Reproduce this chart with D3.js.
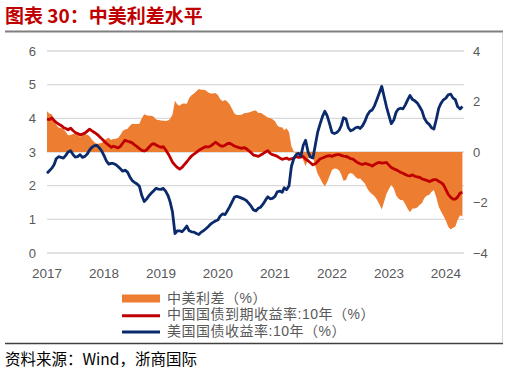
<!DOCTYPE html>
<html>
<head>
<meta charset="utf-8">
<script src="https://cdn.jsdelivr.net/npm/d3@7"></script>
<style>
  body { margin: 0; background: #fff; }
  svg { display: block; font-family: "Liberation Sans", Arial, "Noto Sans CJK SC", sans-serif; }
</style>
</head>
<body>
<svg id="chart" width="509" height="374"></svg>
<script>
// tick labels
const years = [2017, 2018, 2019, 2020, 2021, 2022, 2023, 2024];
const leftTicks = [0, 1, 2, 3, 4, 5, 6];
const rightTicks = [4, 2, 0, -2, -4];
const seriesNames = ["中美利差（%）", "中国国债到期收益率:10年（%）", "美国国债收益率:10年（%）"];

// half-monthly readings (1st and 16th of each month), one row per year
const cn10y = [
  3.98,3.96,4.01,3.93,3.88,3.83,3.79,3.73,3.70,3.66,3.71,3.64,3.58,3.55,3.51,3.53,3.56,3.62,3.68,3.63,3.58,3.53,3.47,3.40,
  3.33,3.26,3.20,3.14,3.17,3.15,3.12,3.17,3.26,3.35,3.32,3.30,3.27,3.21,3.16,3.10,3.05,3.03,3.06,3.14,3.22,3.25,3.21,3.17,
  3.14,3.16,3.06,2.95,2.84,2.70,2.61,2.54,2.49,2.54,2.63,2.71,2.80,2.88,2.94,2.99,3.05,3.09,3.13,3.16,3.15,3.18,3.23,3.29,
  3.24,3.19,3.17,3.20,3.25,3.26,3.22,3.18,3.15,3.13,3.11,3.13,3.10,3.04,2.98,2.91,2.89,2.87,2.91,2.95,3.00,3.04,2.96,2.92,
  2.90,2.87,2.82,2.78,2.80,2.82,2.78,2.80,2.82,2.87,2.84,2.85,2.87,2.79,2.74,2.68,2.62,2.65,2.72,2.79,2.82,2.85,2.88,2.89,
  2.87,2.90,2.92,2.92,2.90,2.88,2.87,2.84,2.80,2.79,2.73,2.68,2.65,2.63,2.66,2.64,2.62,2.58,2.63,2.67,2.69,2.67,2.68,2.69,
  2.61,2.54,2.50,2.47,2.44,2.40,2.37,2.33,2.30,2.29,2.32,2.28,2.26,2.25,2.20,2.18,2.16,2.12,2.15,2.18,2.18,2.13,2.09,2.03,
  1.88,1.74,1.65,1.60,1.60,1.66,1.78,1.80
];
const us10y = [
  2.37,2.44,2.52,2.63,2.80,2.86,2.84,2.82,2.90,3.00,3.04,2.93,2.85,2.86,2.92,2.84,2.87,2.94,3.06,3.14,3.19,3.20,3.13,3.04,
  2.90,2.74,2.64,2.66,2.66,2.63,2.57,2.50,2.43,2.46,2.40,2.26,2.15,2.10,2.05,1.98,1.70,1.53,1.60,1.70,1.78,1.85,1.92,1.90,
  1.89,1.92,1.83,1.70,1.52,1.22,0.58,0.66,0.66,0.63,0.71,0.80,0.66,0.63,0.62,0.58,0.55,0.62,0.66,0.72,0.79,0.86,0.91,0.95,
  0.98,1.10,1.16,1.14,1.25,1.37,1.52,1.66,1.68,1.66,1.63,1.60,1.56,1.48,1.39,1.28,1.25,1.33,1.36,1.45,1.57,1.67,1.61,1.62,
  1.68,1.82,1.84,1.80,1.94,1.88,2.00,2.57,2.80,2.92,2.96,2.88,3.20,3.35,3.00,2.85,2.82,3.20,3.58,3.82,4.05,4.21,4.08,3.85,
  3.58,3.55,3.58,3.65,3.78,4.02,3.98,3.72,3.63,3.66,3.72,3.74,3.70,3.78,3.92,4.10,4.21,4.25,4.38,4.56,4.76,4.95,4.65,4.35,
  4.08,3.84,3.95,4.18,4.27,4.30,4.28,4.40,4.55,4.68,4.56,4.52,4.46,4.35,4.22,4.00,3.88,3.82,3.72,3.68,3.98,4.30,4.45,4.55,
  4.60,4.70,4.72,4.60,4.56,4.35,4.28,4.35
];

const orange = "#ED7D31", red = "#C00000", navy = "#0B2A6B", grey = "#595959";

// dates for the readings
const dates = [];
years.forEach(y => d3.range(12).forEach(m => [1, 16].forEach(d => dates.push(new Date(y, m, d)))));
const data = cn10y.map((v, i) => ({ date: dates[i], cn: v, us: us10y[i], spread: v - us10y[i] }));

const svg = d3.select("#chart");

// scales
const x = d3.scaleTime().domain([new Date(2017, 0, 1), new Date(2024, 3, 26)]).range([47, 464]);
const yL = d3.scaleLinear().domain([0, 6]).range([253, 51]);
const yR = d3.scaleLinear().domain([-4, 4]).range([253, 51]);

// title + frame
svg.append("text")
  .attr("x", 5).attr("y", 23)
  .attr("fill", red)
  .style("font-family", "'Noto Sans CJK SC', sans-serif")
  .style("font-weight", "bold")
  .style("font-size", "19px")
  .text("图表 30：中美利差水平");

svg.append("line").attr("x1", 5).attr("x2", 503).attr("y1", 31.5).attr("y2", 31.5)
  .attr("stroke", "#7f7f7f").attr("stroke-width", 2);
svg.append("line").attr("x1", 502.5).attr("x2", 502.5).attr("y1", 33).attr("y2", 342)
  .attr("stroke", "#d9d9d9").attr("stroke-width", 1);
svg.append("line").attr("x1", 5).attr("x2", 503).attr("y1", 343.5).attr("y2", 343.5)
  .attr("stroke", "#404040").attr("stroke-width", 1.5);

// gridlines
svg.append("g").selectAll("line")
  .data(leftTicks)
  .enter()
  .append("line")
  .attr("x1", 47).attr("x2", 464)
  .attr("y1", d => yL(d)).attr("y2", d => yL(d))
  .attr("stroke", "#d9d9d9").attr("stroke-width", 1.3);

// spread area on right axis
svg.append("path")
  .datum(data)
  .attr("fill", orange)
  .attr("d", d3.area().x(d => x(d.date)).y0(yR(0)).y1(d => yR(d.spread)));

// yield lines on left axis
const lineGen = key => d3.line().x(d => x(d.date)).y(d => yL(d[key]));
svg.append("path").datum(data)
  .attr("fill", "none").attr("stroke", red).attr("stroke-width", 2.8)
  .attr("stroke-linejoin", "round")
  .attr("d", lineGen("cn"));
svg.append("path").datum(data)
  .attr("fill", "none").attr("stroke", navy).attr("stroke-width", 2.8)
  .attr("stroke-linejoin", "round")
  .attr("d", lineGen("us"));

// axis labels
svg.append("g").selectAll("text")
  .data(leftTicks)
  .enter()
  .append("text")
  .attr("x", 36).attr("y", d => yL(d) + 4.5)
  .attr("text-anchor", "end")
  .attr("fill", grey).style("font-size", "13px")
  .text(d => d);

svg.append("g").selectAll("text")
  .data(rightTicks)
  .enter()
  .append("text")
  .attr("x", 473).attr("y", d => yR(d) + 4.5)
  .attr("fill", grey).style("font-size", "13px")
  .text(d => d < 0 ? "\u2212" + Math.abs(d) : d);

svg.append("g").selectAll("text")
  .data(years)
  .enter()
  .append("text")
  .attr("x", d => x(new Date(d, 0, 1))).attr("y", 278)
  .attr("text-anchor", "middle")
  .attr("fill", grey).style("font-size", "13.5px")
  .text(d => d);

// legend
const legend = svg.append("g").selectAll("g")
  .data(seriesNames)
  .enter()
  .append("g")
  .attr("transform", (d, i) => `translate(122, ${298 + i * 16.3})`);

legend.filter((d, i) => i === 0).append("rect")
  .attr("x", 0).attr("y", -3.5).attr("width", 38).attr("height", 8)
  .attr("fill", orange);
legend.filter((d, i) => i > 0).append("line")
  .attr("x1", 0).attr("x2", 38).attr("y1", 1.5).attr("y2", 1.5)
  .attr("stroke", (d, i) => i === 0 ? red : navy).attr("stroke-width", 3);
legend.append("text")
  .attr("x", 45).attr("y", 5)
  .attr("fill", grey)
  .style("font-family", "'Liberation Sans', 'Noto Sans CJK SC', sans-serif")
  .style("font-size", "14px")
  .style("letter-spacing", "0.5px")
  .text(d => d);

// source
svg.append("text")
  .attr("x", 5).attr("y", 365)
  .attr("fill", "#000")
  .style("font-family", "'Noto Sans CJK SC', sans-serif")
  .style("font-size", "15.5px")
  .text("资料来源：Wind，浙商国际");
</script>
</body>
</html>
